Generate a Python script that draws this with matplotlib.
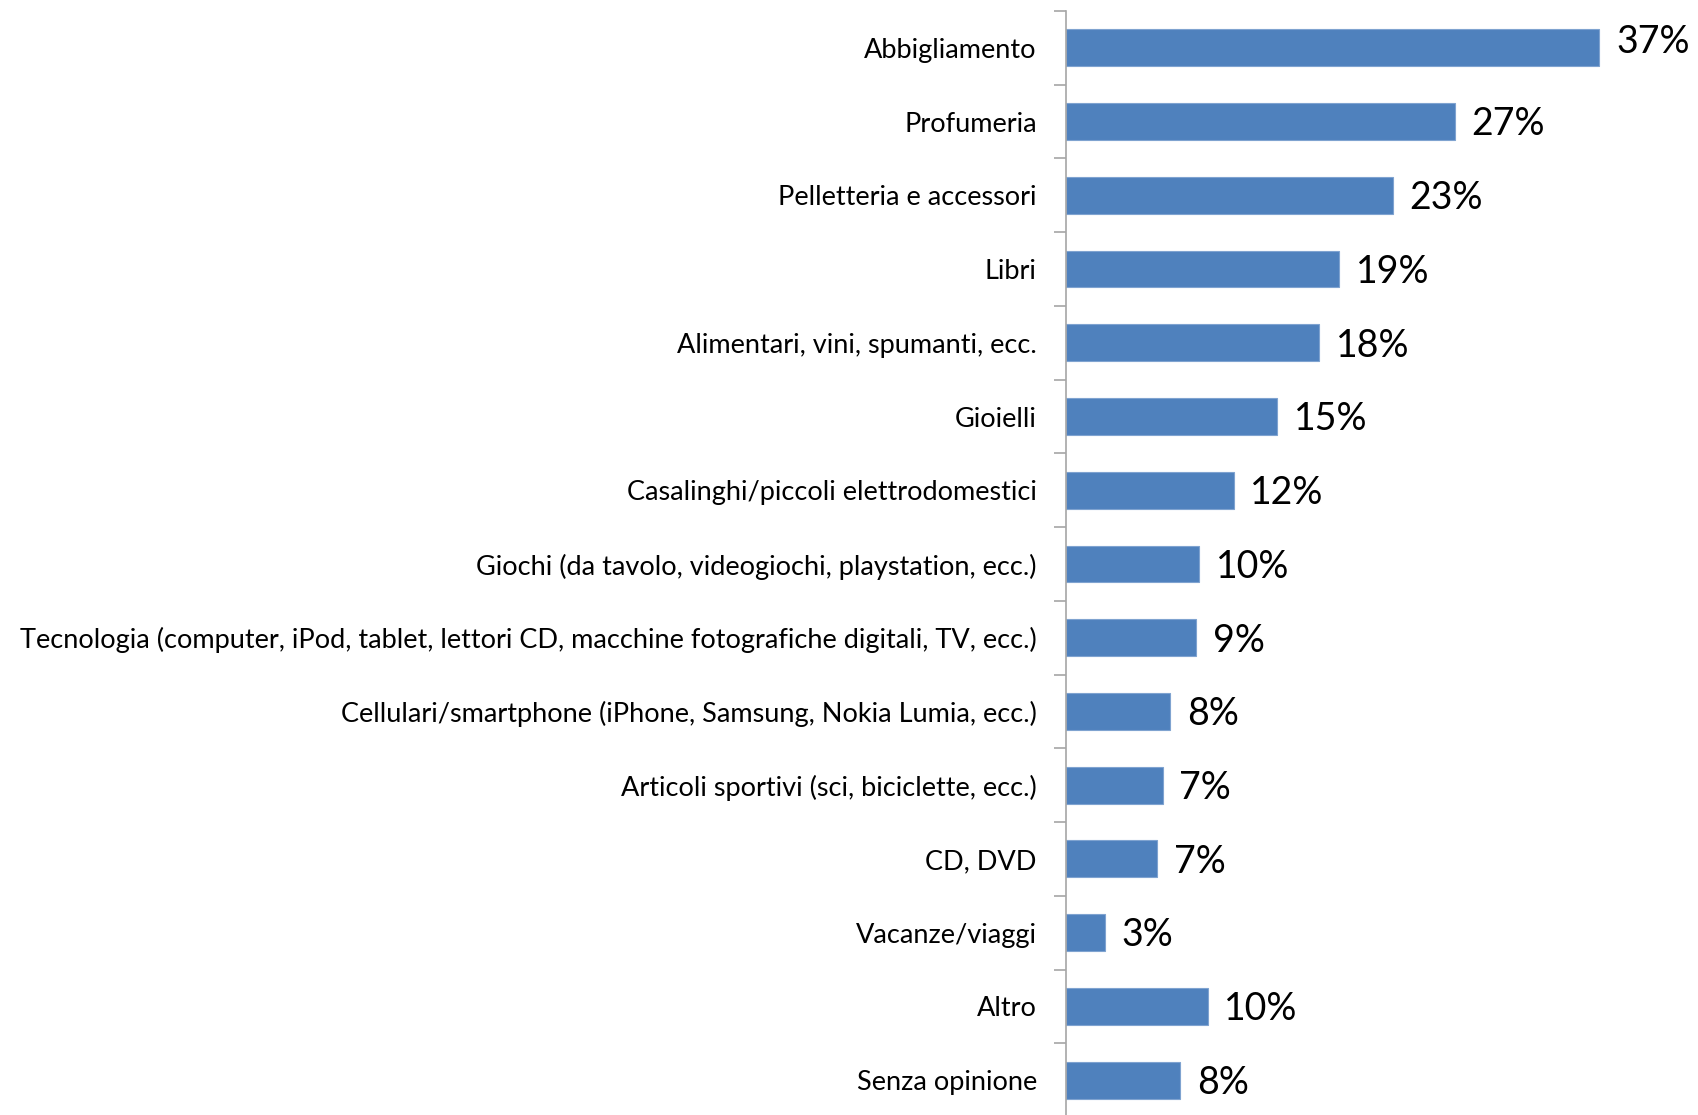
import matplotlib
matplotlib.use("Agg")
from matplotlib import pyplot as plt

# Categories (top to bottom) and percentages
categories = [
    "Abbigliamento",
    "Profumeria",
    "Pelletteria e accessori",
    "Libri",
    "Alimentari, vini, spumanti, ecc.",
    "Gioielli",
    "Casalinghi/piccoli elettrodomestici",
    "Giochi (da tavolo, videogiochi, playstation, ecc.)",
    "Tecnologia (computer, iPod, tablet, lettori CD, macchine fotografiche digitali, TV, ecc.)",
    "Cellulari/smartphone (iPhone, Samsung, Nokia Lumia, ecc.)",
    "Articoli sportivi (sci, biciclette, ecc.)",
    "CD, DVD",
    "Vacanze/viaggi",
    "Altro",
    "Senza opinione",
]
values = [36.9, 26.9, 22.6, 18.9, 17.5, 14.6, 11.6, 9.2, 9.0, 7.2, 6.7, 6.3, 2.7, 9.8, 7.9]
labels = ["37%", "27%", "23%", "19%", "18%", "15%", "12%", "10%", "9%",
          "8%", "7%", "7%", "3%", "10%", "8%"]

plt.rcParams['font.family'] = ['Lato', 'DejaVu Sans']

W, H = 1699, 1115
fig = plt.figure(figsize=(W / 100, H / 100), dpi=100)
ax = fig.add_axes([1066 / W, 1 - 1117 / H, (W - 1066) / W, (1117 - 11) / H])

n = len(categories)
pos = list(range(n))
ax.barh(pos, values, height=0.5, color="#4F81BD", edgecolor="#7FA3D0", linewidth=0.8)

ax.set_ylim(n - 0.5, -0.5)
ax.set_xlim(0, 43.8)

# category labels centred on bars, tick marks at boundaries
ax.set_yticks(pos)
ax.set_yticklabels(categories, fontsize=19.5)
ax.tick_params(axis="y", which="major", length=0, pad=21)
ax.set_yticks([i - 0.5 for i in range(n + 1)], minor=True)
ax.tick_params(axis="y", which="minor", length=9, width=1.2, color="#A6A6A6", direction="out")
ax.set_xticks([])

for side in ("top", "right", "bottom"):
    ax.spines[side].set_visible(False)
ax.spines["left"].set_color("#A6A6A6")
ax.spines["left"].set_linewidth(1.2)

for i, (v, lab) in enumerate(zip(values, labels)):
    # the top label sits a bit higher, as in the original
    dy = 4 if i == 0 else -2
    ax.annotate(lab, (v, i), xytext=(12, dy), textcoords="offset points",
                va="center", ha="left", fontsize=27)

fig.savefig("out.png", dpi=100)
